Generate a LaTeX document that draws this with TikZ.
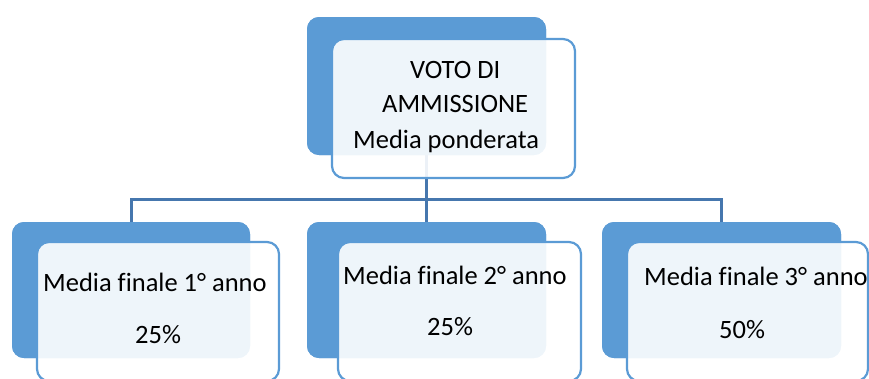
\documentclass[tikz,border=0pt]{standalone}
\usepackage{fontspec}
\setmainfont{Carlito}[Ligatures=NoCommon]
\definecolor{backblue}{HTML}{5B9BD5}
\definecolor{lineblue}{HTML}{4677AE}
\begin{document}
\begin{tikzpicture}[x=1pt,y=-1pt,
  backcard/.style={draw=none,fill=backblue,rounded corners=12pt,inner sep=0pt,minimum width=#1},
  frontcard/.style={draw=backblue,line width=2.2pt,fill=white,fill opacity=0.9,rounded corners=12pt,inner sep=0pt},
  conn/.style={draw=lineblue,line width=3pt},
  lbl/.style={anchor=base west,inner sep=0pt,font=\fontsize{26.5}{32}\selectfont}]
\useasboundingbox (0,0) rectangle (869,378);
\clip (0,0) rectangle (869,378);
% back cards
\node[backcard=239pt,minimum height=138pt] (t) at (426.5,86) {};
\node[backcard=238pt,minimum height=136pt] (b1) at (131,290) {};
\node[backcard=239pt,minimum height=136pt] (b2) at (426.5,290) {};
\node[backcard=239pt,minimum height=136pt] (b3) at (721.5,290) {};
% connectors
\coordinate (j) at (426.5,199.5);
\draw[conn] (t.south) -- (j);
\draw[conn] (j) -| (b1.north);
\draw[conn] (j) -| (b3.north);
\draw[conn] (j) -- (b2.north);
% redraw back cards over connector ends
\node[backcard=239pt,minimum height=138pt] at (t) {};
\node[backcard=238pt,minimum height=136pt] at (b1) {};
\node[backcard=239pt,minimum height=136pt] at (b2) {};
\node[backcard=239pt,minimum height=136pt] at (b3) {};
% front cards
\node[frontcard,minimum width=243pt,minimum height=139pt] (ft) at (453.5,108.5) {};
\node[frontcard,minimum width=242pt,minimum height=139pt] (f1) at (158,311.5) {};
\node[frontcard,minimum width=243pt,minimum height=139pt] (f2) at (459.5,311.5) {};
\node[frontcard,minimum width=241pt,minimum height=139pt] (f3) at (747.5,311.5) {};
% texts
\node[lbl] (t1) at (410,78) {VOTO DI};
\node[lbl] (t2) at (382,112) {AMMISSIONE};
\node[lbl] (t3) at (353,148) {Media ponderata};
\node[lbl] (m1) at (43,291) {Media finale 1° anno};
\node[lbl] (p1) at (135,343) {25\%};
\node[lbl] (m2) at (343,284) {Media finale 2° anno};
\node[lbl] (p2) at (427,335) {25\%};
\node[lbl] (m3) at (644,285) {Media finale 3° anno};
\node[lbl] (p3) at (719,338) {50\%};
\end{tikzpicture}
\end{document}
